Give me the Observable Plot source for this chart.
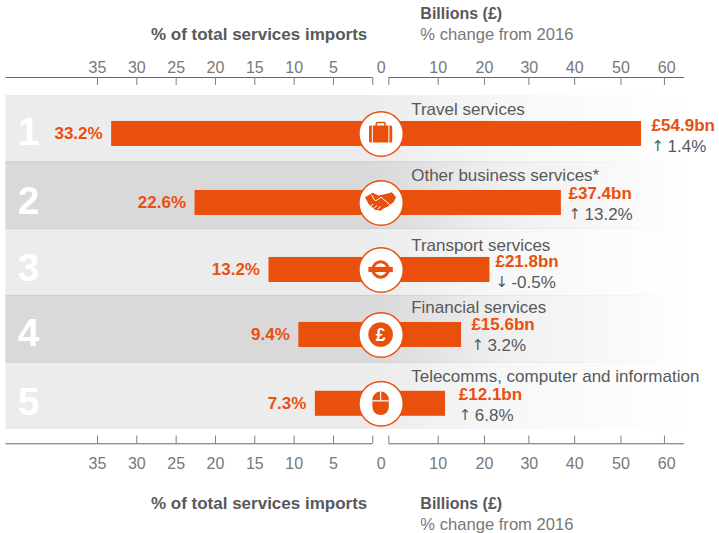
<!DOCTYPE html>
<html>
<head>
<meta charset="utf-8">
<style>
html,body{margin:0;padding:0;background:#fff;}
svg{display:block;}
</style>
<script src="https://cdn.jsdelivr.net/npm/d3@7"></script>
<script src="https://cdn.jsdelivr.net/npm/@observablehq/plot@0.6"></script>
</head>
<body>
<script>
// ---- data ----
const ranks = [1, 2, 3, 4, 5];
const services = ["Travel services", "Other business services*", "Transport services", "Financial services", "Telecomms, computer and information"];
const sharePct = [33.2, 22.6, 13.2, 9.4, 7.3];
const billions = [54.9, 37.4, 21.8, 15.6, 12.1];
const changePct = [1.4, 13.2, -0.5, 3.2, 6.8];
const leftTicks = [35, 30, 25, 20, 15, 10, 5];
const rightTicks = [10, 20, 30, 40, 50, 60];
// where each right-hand tick and its label sit on the bar scale
const rightTickAt = [10.5, 20.6, 30.3, 40.3, 50.4, 59.9];
const rightLabelAt = [10.5, 20.6, 30.4, 40.3, 50.4, 60.4];

// ---- layout, in scale units ----
const orange = "#ea500d", grey = "#58595b", tickGrey = "#787878";
const GAP = 3.78;             // the break between the 0 of each axis
const bn = v => v + GAP;      // £bn side of the shared x scale
const pc = v => -v;           // % side of the shared x scale
const xLeftEnd = -46.65, xRightEnd = bn(64.3), xRowEnd = bn(65.6);
const xHub = GAP * 0.48, xLeftZero = 0, xRightZero = bn(-0.28);
const xHeadLeft = pc(0.7), xHeadRight = bn(6.6), xName = bn(4.6);

const barY = [1.076, 2.109, 3.112, 4.085, 5.115];
const nameY = [0.799, 1.783, 2.831, 3.763, 4.792];
const valueY = [1.034, 2.042, 3.060, 4.003, 5.051];
const valueX = [57.1, 38.95, 23.0, 17.75, 15.0];
const rows = ranks.map((r, i) => ({
  rank: r, name: services[i], share: sharePct[i], value: billions[i], change: changePct[i],
  barY: barY[i], nameY: nameY[i], valueY: valueY[i], valueX: valueX[i]
}));

const axes = [
  {line: 0.2305, tick: 0.350, label: 0.166},
  {line: 5.714, tick: 5.597, label: 6.088}
];
const heads = [
  {bold: -0.338, boldRight: -0.638, sub: -0.338},
  {bold: 6.687, boldRight: 6.687, sub: 7.002}
];

const sans = "'Liberation Sans', Arial, sans-serif";

// ---- icons, drawn around the hub of each row ----
const briefcase = g => {
  g.append("path").attr("fill", orange).attr("fill-rule", "evenodd")
    .attr("d", "M-11.6,-6.5q0,-1.5 1.5,-1.5h5v-2.2q0,-1.6 1.6,-1.6h7q1.6,0 1.6,1.6v2.2h5q1.5,0 1.5,1.5v14q0,1.5 -1.5,1.5h-20.2q-1.5,0 -1.5,-1.5zM-3.5,-8h7v-2.2h-7z");
  g.append("path").attr("stroke", "#fff").attr("stroke-width", 1).attr("d", "M-8.3,-8v17M8.3,-8v17");
};
const handshake = g => {
  g.append("path").attr("fill", orange)
    .attr("d", "M-15.5,-5.3L-7.8,-9.7L-2.2,-7L6.2,-8.7L11.2,-10.3L15.5,-5.3L12.8,-0.3L7.8,3.7L3,6L-0.5,8.4L-3,7.4L-5.5,7.4L-8,5L-10,3.5L-12.2,1.3Z");
  g.append("path").attr("fill", "none").attr("stroke", "#fff").attr("stroke-width", 1)
    .attr("d", "M-9,-7.5L-6.6,-3Q-5.5,-1.2 -3.5,-2.4L0.5,-5.3L9.6,2.6M-9.5,3.4L-7.5,1.6M-6.5,5.6L-3.6,3M-2.8,6.6L0,4");
};
const roundel = g => {
  g.append("ellipse").attr("rx", 7.7).attr("ry", 7.7).attr("fill", "none").attr("stroke", orange).attr("stroke-width", 3);
  g.append("rect").attr("x", -12.2).attr("y", -2.6).attr("width", 24.4).attr("height", 5.2).attr("fill", orange);
};
const pound = g => {
  g.append("circle").attr("r", 12.3).attr("fill", orange);
  g.append("text").attr("text-anchor", "middle").attr("y", 6.2).attr("fill", "#fff")
    .attr("font-family", sans).attr("font-weight", "bold").attr("font-size", 17.5).text("£");
};
const mouse = g => {
  g.append("rect").attr("x", -8.2).attr("y", -11.7).attr("width", 16.4).attr("height", 23.4).attr("rx", 8).attr("fill", orange);
  g.append("path").attr("stroke", "#fff").attr("stroke-width", 1.1).attr("fill", "none").attr("d", "M0,-11.7V-2.4M-8.2,-2.4H8.2");
};
const icons = [briefcase, handshake, roundel, pound, mouse];

const iconMark = (index, {x, y}) => {
  const g = d3.create("svg:g");
  rows.forEach((d, i) => {
    icons[i](g.append("g").attr("transform", `translate(${x(xHub)},${y(d.barY)})`));
  });
  return g.node();
};

const gradient = (id, color) => `<linearGradient id="${id}" x1="0" x2="1" y1="0" y2="0">
  <stop offset="0.53" stop-color="${color}"/>
  <stop offset="0.577" stop-color="${color}" stop-opacity="0.88"/>
  <stop offset="0.72" stop-color="${color}" stop-opacity="0.42"/>
  <stop offset="0.87" stop-color="${color}" stop-opacity="0.2"/>
  <stop offset="1" stop-color="${color}" stop-opacity="0"/>
</linearGradient>`;
const defsMark = () => {
  const s = d3.create("svg:defs");
  s.html(gradient("rowOdd", "#ececec") + gradient("rowEven", "#d9d9d9") + gradient("rowSep", "#cbcbcb"));
  return s.node();
};

const arrow = d => d.change < 0 ? "\u2193" : "\u2191";

const axisMarks = axes.flatMap(a => [
  Plot.ruleY([a.line], {x1: xLeftEnd, x2: xLeftZero, stroke: "#666", strokeWidth: 1}),
  Plot.ruleY([a.line], {x1: xRightZero, x2: xRightEnd, stroke: "#666", strokeWidth: 1}),
  Plot.ruleX([...leftTicks.map(pc), xLeftZero, xRightZero, ...rightTickAt.map(bn)], {y1: a.line, y2: a.tick, stroke: "#808080", strokeWidth: 1}),
  Plot.text(leftTicks, {x: pc, y: () => a.label, text: d => String(d), fill: tickGrey, fontSize: 16, lineAnchor: "bottom", fontFamily: sans}),
  Plot.text(["0"], {x: xHub, y: () => a.label, text: d => d, fill: tickGrey, fontSize: 16, lineAnchor: "bottom", fontFamily: sans}),
  Plot.text(rightTicks, {x: (d, i) => bn(rightLabelAt[i]), y: () => a.label, text: d => String(d), fill: tickGrey, fontSize: 16, lineAnchor: "bottom", fontFamily: sans})
]);

const headMarks = heads.flatMap(h => [
  Plot.text(["% of total services imports"], {x: xHeadLeft, y: () => h.bold, text: d => d, textAnchor: "end", lineAnchor: "bottom", fontWeight: "bold", fontSize: 17, fill: grey, fontFamily: sans}),
  Plot.text(["Billions (£)"], {x: xHeadRight, y: () => h.boldRight, text: d => d, textAnchor: "start", lineAnchor: "bottom", fontWeight: "bold", fontSize: 16, fill: grey, fontFamily: sans}),
  Plot.text(["% change from 2016"], {x: xHeadRight, y: () => h.sub, text: d => d, textAnchor: "start", lineAnchor: "bottom", fontSize: 16.6, fill: tickGrey, fontFamily: sans})
]);

const chart = Plot.plot({
  width: 719, height: 533,
  marginTop: 0, marginRight: 0, marginBottom: 0, marginLeft: 0,
  style: {background: "transparent", fontFamily: sans},
  x: {type: "linear", domain: [pc(35), 0, bn(60)], range: [97, 372.3, 664.4], axis: null},
  y: {type: "linear", domain: [0.5, 5.5], range: [95, 429], axis: null},
  marks: [
    defsMark,
    Plot.rect(rows, {x1: xLeftEnd, x2: xRowEnd, y1: d => d.rank - 0.5, y2: d => d.rank + 0.5,
      fill: d => d.rank % 2 ? "url(#rowOdd)" : "url(#rowEven)"}),
    Plot.rect(ranks.slice(0, 4), {x1: xLeftEnd, x2: xRowEnd, y1: d => d + 0.493, y2: d => d + 0.507, fill: "url(#rowSep)"}),
    Plot.text(rows, {x: pc(43.75), y: "barY", dy: 11.5, text: d => String(d.rank), fill: "#fff", fontWeight: "bold", fontSize: 39, lineAnchor: "bottom", fontFamily: sans}),
    Plot.rect(rows, {x1: d => pc(d.share), x2: d => bn(d.value), y1: "barY", y2: "barY", insetTop: -12.5, insetBottom: -12.5, fill: orange}),
    Plot.dot(rows, {x: xHub, y: "barY", r: 22.2, fill: "#fff", stroke: orange, strokeWidth: 1.5}),
    iconMark,
    Plot.text(rows, {x: d => pc(d.share), y: "barY", dx: -9, dy: 5, text: d => d.share.toFixed(1) + "%", textAnchor: "end", lineAnchor: "bottom", fill: orange, fontWeight: "bold", fontSize: 17, fontFamily: sans}),
    Plot.text(rows, {x: xName, y: "nameY", text: "name", textAnchor: "start", lineAnchor: "bottom", fill: grey, fontSize: 17, fontFamily: sans}),
    Plot.text(rows, {x: d => bn(d.valueX), y: "valueY", text: d => "£" + d.value.toFixed(1) + "bn", textAnchor: "start", lineAnchor: "bottom", fill: orange, fontWeight: "bold", fontSize: 17, fontFamily: sans}),
    Plot.text(rows, {x: d => bn(d.valueX), y: "valueY", dy: 20, text: arrow, textAnchor: "start", lineAnchor: "bottom", fill: grey, fontSize: 15, fontFamily: "'DejaVu Sans', sans-serif"}),
    Plot.text(rows, {x: d => bn(d.valueX), y: "valueY", dx: 16, dy: 21, text: d => d.change.toFixed(1) + "%", textAnchor: "start", lineAnchor: "bottom", fill: grey, fontSize: 17, fontFamily: sans}),
    ...axisMarks,
    ...headMarks
  ]
});
document.body.append(chart);
</script>
</body>
</html>
